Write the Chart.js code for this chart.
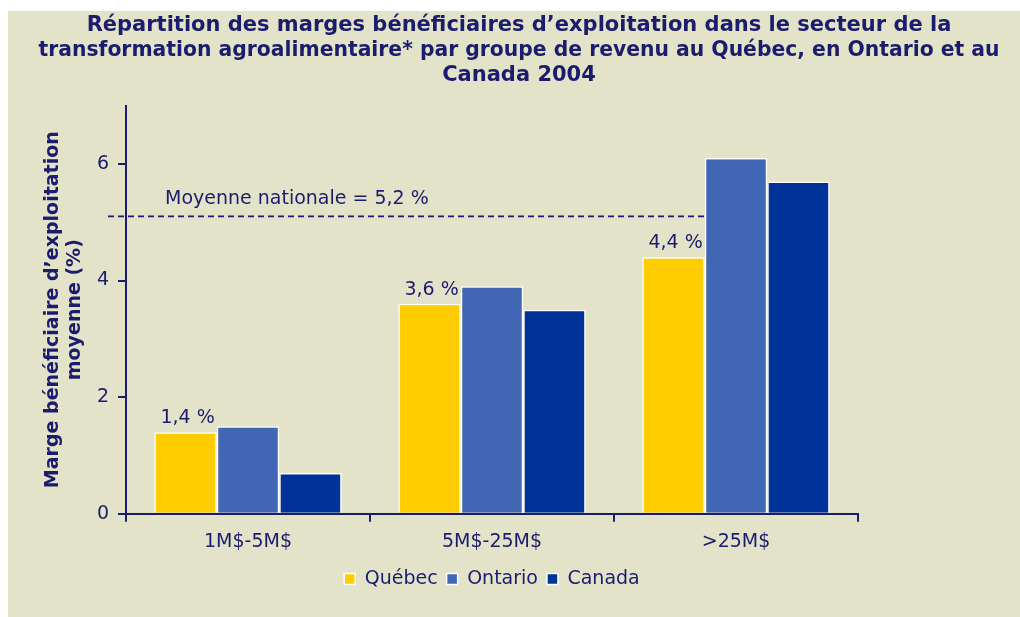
<!DOCTYPE html>
<html>
<head>
<meta charset="utf-8">
<script src="https://cdn.jsdelivr.net/npm/chart.js@4/dist/chart.umd.min.js"></script>
<style>
  html, body { margin: 0; padding: 0; background: #fff; }
  #panel { position: absolute; left: 8px; top: 11px; width: 1012px; height: 606px; background: #E3E3CA; }
  #chart { position: absolute; left: 0; top: 0; }
</style>
</head>
<body>
<div id="panel"></div>
<canvas id="chart" width="1020" height="617"></canvas>
<script>
const CATEGORIES = ["1M$-5M$", "5M$-25M$", ">25M$"];
const QUEBEC = [1.4, 3.6, 4.4];
const ONTARIO = [1.5, 3.9, 6.1];
const CANADA = [0.7, 3.5, 5.7];
const SERIES_NAMES = ["Québec", "Ontario", "Canada"];
// the dashed line sits a bit under its printed value in the original
const AVG_LINE_VALUE = 5.1;
const AVG_LABEL = "Moyenne nationale = 5,2 %";
const TITLE_LINES = [
  "Répartition des marges bénéficiaires d’exploitation dans le secteur de la",
  "transformation agroalimentaire* par groupe de revenu au Québec, en Ontario et au",
  "Canada 2004",
];
const Y_TITLE = ["Marge bénéficiaire d’exploitation", "moyenne (%)"];

const NAVY = "#1C1C6E";
const FONT = "'DejaVu Sans', Verdana, sans-serif";

const fmtPct = (v) => v.toFixed(1).replace(".", ",") + " %";

// dashed national average line, drawn under the bars
const avgLine = {
  id: "avgLine",
  beforeDatasetsDraw(chart) {
    const { ctx, chartArea, scales } = chart;
    const y = scales.y.getPixelForValue(AVG_LINE_VALUE);
    const stopBar = chart.getDatasetMeta(1).data[2];
    const xEnd = stopBar.x - stopBar.width / 2;
    ctx.save();
    ctx.strokeStyle = NAVY;
    ctx.lineWidth = 1.8;
    ctx.setLineDash([6, 4]);
    ctx.beginPath();
    ctx.moveTo(chartArea.left - 18, y);
    ctx.lineTo(xEnd, y);
    ctx.stroke();
    ctx.setLineDash([]);
    ctx.font = "19px " + FONT;
    ctx.fillStyle = NAVY;
    ctx.textBaseline = "alphabetic";
    ctx.fillText(AVG_LABEL, chartArea.left + 39, y - 12);
    ctx.restore();
  },
};

// value labels above the Québec bars
const quebecLabels = {
  id: "quebecLabels",
  afterDatasetsDraw(chart) {
    const { ctx } = chart;
    const meta = chart.getDatasetMeta(0);
    ctx.save();
    ctx.font = "19px " + FONT;
    ctx.fillStyle = NAVY;
    ctx.textAlign = "center";
    ctx.textBaseline = "alphabetic";
    meta.data.forEach((bar, i) => {
      ctx.fillText(fmtPct(QUEBEC[i]), bar.x + 2, bar.y - 9);
    });
    ctx.restore();
  },
};

new Chart(document.getElementById("chart"), {
  type: "bar",
  data: {
    labels: CATEGORIES,
    datasets: [
      { label: SERIES_NAMES[0], data: QUEBEC, backgroundColor: "#FFCC00" },
      { label: SERIES_NAMES[1], data: ONTARIO, backgroundColor: "#4166B3" },
      { label: SERIES_NAMES[2], data: CANADA, backgroundColor: "#003399" },
    ].map((ds) => ({
      ...ds,
      borderColor: "#FFFFFF",
      borderWidth: 1.5,
      barPercentage: 1,
      categoryPercentage: 0.768,
    })),
  },
  options: {
    responsive: false,
    animation: false,
    layout: { padding: { left: 38.5, right: 20.5, top: 0, bottom: 18.6 } },
    plugins: {
      title: {
        display: true,
        text: TITLE_LINES,
        color: NAVY,
        font: { family: FONT, size: 21, weight: "bold", lineHeight: 1.2 },
        padding: { top: 13, bottom: 17 },
      },
      legend: {
        position: "bottom",
        fullSize: false,
        labels: {
          color: NAVY,
          font: { family: FONT, size: 19 },
          boxWidth: 11,
          boxHeight: 11,
          padding: 9,
        },
      },
      tooltip: { enabled: false },
    },
    scales: {
      x: {
        border: { display: true, color: NAVY, width: 2 },
        grid: { offset: true, drawOnChartArea: false, drawTicks: true, tickLength: 8, color: NAVY, lineWidth: 2 },
        ticks: { color: NAVY, font: { family: FONT, size: 19 }, padding: 9, maxRotation: 0, autoSkip: false },
        afterFit(scale) {
          scale.height = 46.6;
        },
      },
      y: {
        min: 0,
        max: 7,
        border: { display: true, color: NAVY, width: 2 },
        grid: { drawOnChartArea: false, drawTicks: true, tickLength: 8, color: NAVY, lineWidth: 2 },
        ticks: { stepSize: 2, includeBounds: false, color: NAVY, font: { family: FONT, size: 19 }, padding: 9 },
        title: {
          display: true,
          text: Y_TITLE,
          color: NAVY,
          font: { family: FONT, size: 19, weight: "bold", lineHeight: 1.158 },
          padding: { top: 4, bottom: 4 },
        },
        afterFit(scale) {
          scale.width = 87.5;
        },
      },
      // empty right-hand box, only reserves the margin right of the plot
      spacer: {
        type: "linear",
        position: "right",
        min: 0,
        max: 1,
        grid: { display: false },
        border: { display: false },
        ticks: { display: false },
        afterFit(scale) {
          scale.width = 141.5;
        },
      },
    },
  },
  plugins: [avgLine, quebecLabels],
});
</script>
</body>
</html>
